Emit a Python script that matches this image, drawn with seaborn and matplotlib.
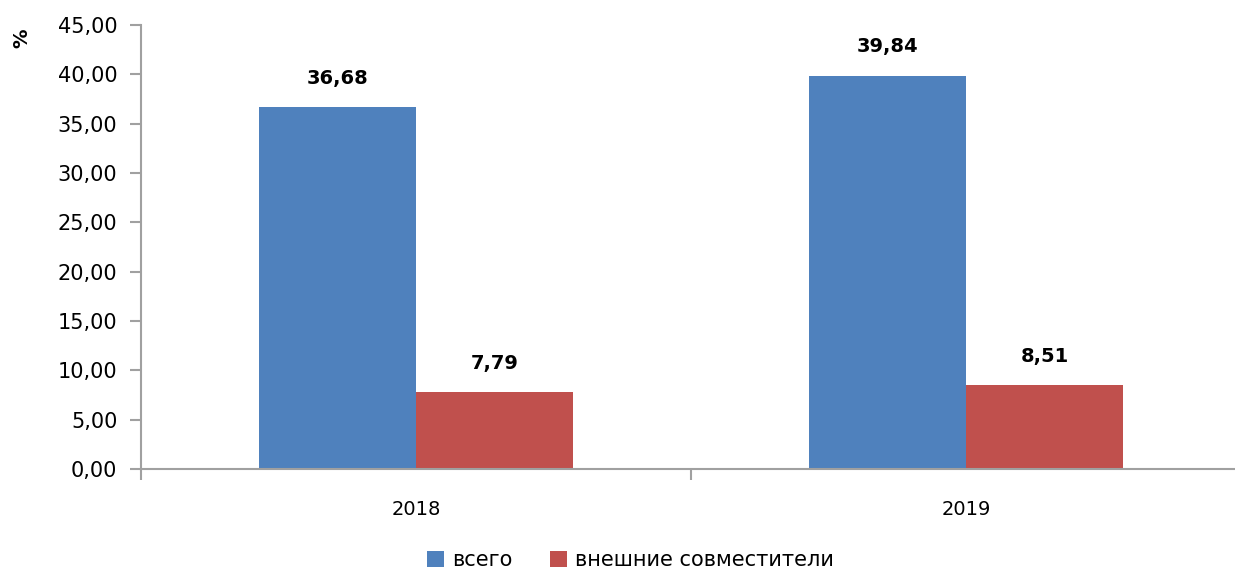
import matplotlib
matplotlib.use('Agg')
import matplotlib.pyplot as plt
import seaborn as sns
import pandas as pd
import numpy as np

years = ["2018", "2019"]
series = ["всего", "внешние совместители"]
vsego = [36.68, 39.84]
vneshnie = [7.79, 8.51]
colors = ["#4F81BD", "#C0504D"]

df = pd.DataFrame({
    "year": years * 2,
    "series": [series[0]] * 2 + [series[1]] * 2,
    "value": vsego + vneshnie,
})

sns.set_style("white")
plt.rcParams['font.family'] = ['DejaVu Sans']
plt.rcParams['text.color'] = 'black'
plt.rcParams['xtick.color'] = 'black'
plt.rcParams['ytick.color'] = 'black'
plt.rcParams['axes.labelcolor'] = 'black'

fig = plt.figure(figsize=(12.35, 5.71), dpi=100)
ax = fig.add_axes([0.1142, 0.1786, 0.8907, 0.7776])

sns.barplot(data=df, x="year", y="value", hue="series", order=years,
            hue_order=series, palette=colors, width=0.572, gap=0,
            saturation=1, linewidth=0, ax=ax, legend=True)

def fmt(v):
    return f"{v:.2f}".replace(".", ",")

for cont in ax.containers:
    for bar in cont:
        h = bar.get_height()
        ax.annotate(fmt(h), (bar.get_x() + bar.get_width() / 2, h),
                    xytext=(0, 14), textcoords="offset points",
                    ha="center", va="bottom", fontsize=14, fontweight="bold")

ax.set_ylim(0, 45)
ax.set_xlim(-0.5, 1.5)
yt = np.arange(0, 46, 5)
ax.set_yticks(yt)
ax.set_yticklabels([fmt(v) for v in yt], fontsize=15)
ax.set_xticks([0, 1])
ax.set_xticklabels(years, fontsize=14)
ax.set_xticks([-0.5, 0.5, 1.5], minor=True)
ax.tick_params(axis="x", which="major", length=0, pad=22)
ax.tick_params(axis="x", which="minor", bottom=True, length=8, color="#A0A0A0",
               width=1.5, direction="out")
ax.tick_params(axis="y", length=8, color="#A0A0A0", labelcolor="black",
               width=1.5, direction="out", left=True, pad=9)

for s in ["top", "right"]:
    ax.spines[s].set_visible(False)
for s in ["left", "bottom"]:
    ax.spines[s].set_color("#A0A0A0")
    ax.spines[s].set_linewidth(1.5)

ax.set_xlabel("")
ax.set_ylabel("%", fontsize=14, fontweight="bold", rotation=90)
ax.yaxis.set_label_coords(-0.1, 0.97)

ax.legend(loc="lower center", bbox_to_anchor=(0.445, -0.27), ncol=2, frameon=False,
          fontsize=15, handlelength=0.8, handleheight=0.8, handletextpad=0.4,
          columnspacing=1.8)

fig.savefig("out.png", dpi=100)
